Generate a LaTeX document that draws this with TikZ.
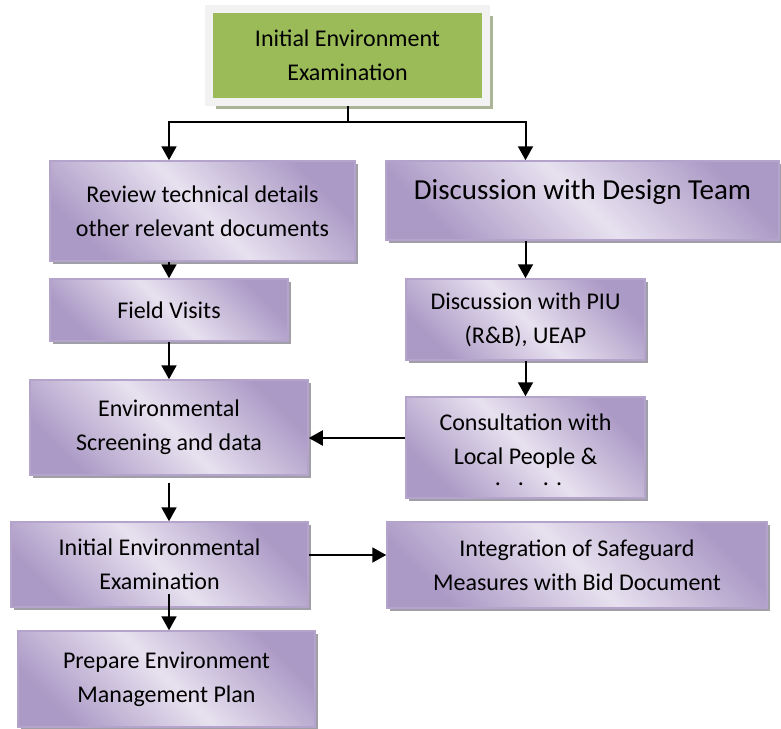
\documentclass[tikz,border=0pt]{standalone}
\usepackage{fontspec}
\setmainfont{Carlito}
\usetikzlibrary{arrows.meta,shadows}
\definecolor{boxdark}{RGB}{172,154,198}
\definecolor{boxlight}{RGB}{231,225,239}
\definecolor{boxline}{RGB}{180,164,204}
\definecolor{boxshadow}{RGB}{160,158,166}
\definecolor{topgreen}{RGB}{155,187,89}
\definecolor{topframe}{RGB}{242,242,242}
\definecolor{topshadow}{RGB}{172,180,152}

\begin{document}
\begin{tikzpicture}[x=0.5pt, y=-0.5pt,
  box/.style={rectangle, draw=boxline, line width=0.75pt, top color=boxdark, bottom color=boxdark, middle color=boxlight, shading angle=-45, align=center, inner sep=0pt, font=\fontsize{12pt}{17pt}\selectfont, drop shadow={shadow xshift=1.5pt, shadow yshift=-1.5pt, fill=boxshadow, opacity=1}},
  arr/.style={-{Triangle[width=7.5pt,length=7pt]}, line width=1pt}]
  \useasboundingbox (0,0) rectangle (781,728);
  % Nodes
  \node (initial) [rectangle, draw=topframe, line width=4pt, fill=topgreen, minimum width=138.5pt, minimum height=46.5pt, align=center, inner sep=0pt, font=\fontsize{12pt}{17pt}\selectfont, drop shadow={shadow xshift=3.5pt, shadow yshift=-3.5pt, fill=topshadow, opacity=1}] at (347.5, 55.5) {Initial Environment\\Examination};
  \node (review) [box, minimum width=152.5pt, minimum height=50pt] at (202.5, 211) {Review technical details\\other relevant documents};
  \node (design-team) [box, minimum width=196.5pt, minimum height=39.5pt, font=\fontsize{14.5pt}{17pt}\selectfont, text depth=11pt] at (582.5, 200.5) {Discussion with Design Team};
  \node (field-visits) [box, minimum width=119pt, minimum height=31pt] at (169, 310) {Field Visits};
  \node (piu) [box, minimum width=119.5pt, minimum height=40.5pt] at (525.5, 319.5) {Discussion with PIU\\(R\&B), UEAP};
  \node (screening) [box, minimum width=139pt, minimum height=47.5pt] at (169, 427.5) {Environmental\\Screening and data};
  \node (consultation) [box, minimum width=119.5pt, minimum height=50.5pt, text height=40pt, text depth=2.5pt] at (525.5, 447.5) {Consultation with\\Local People \&\\[-6.5pt]\hspace{3pt}.\hspace{8.5pt}.\hspace{9.5pt}.\hspace{3.5pt}.};
  \node (iee) [box, minimum width=148.5pt, minimum height=42.5pt] at (159.5, 564.5) {Initial Environmental\\Examination};
  \node (safeguard) [box, minimum width=190pt, minimum height=43pt] at (577, 565) {Integration of Safeguard\\Measures with Bid Document};
  \node (emp) [box, minimum width=148.5pt, minimum height=48pt] at (166.5, 679) {Prepare Environment\\Management Plan};
  \coordinate (fork) at (347.5, 122);
  % Arrow
  \draw[line width=1pt] (initial.south) -- (fork);
  \draw[arr] (fork) -| (review.north -| field-visits.north);
  \draw[arr] (fork) -| (design-team.north -| piu.north);
  \draw[arr] (review.south -| field-visits.north) -- (field-visits.north);
  \draw[arr] (field-visits.south) -- (screening.north);
  \draw[arr] (design-team.south -| piu.north) -- (piu.north);
  \draw[arr] (piu.south) -- (consultation.north);
  \draw[arr] ([yshift=4.75pt]consultation.west) -- ([yshift=4.75pt]consultation.west -| screening.east);
  \draw[arr, shorten <=3.5pt] (screening.south) -- (screening.south |- iee.north);
  \draw[arr] ([yshift=4.75pt]iee.east) -- ([yshift=4.75pt]iee.east -| safeguard.west);
  \draw[arr] ([yshift=7pt]iee.south -| screening.south) -- (emp.north -| screening.south);
\end{tikzpicture}
\end{document}
